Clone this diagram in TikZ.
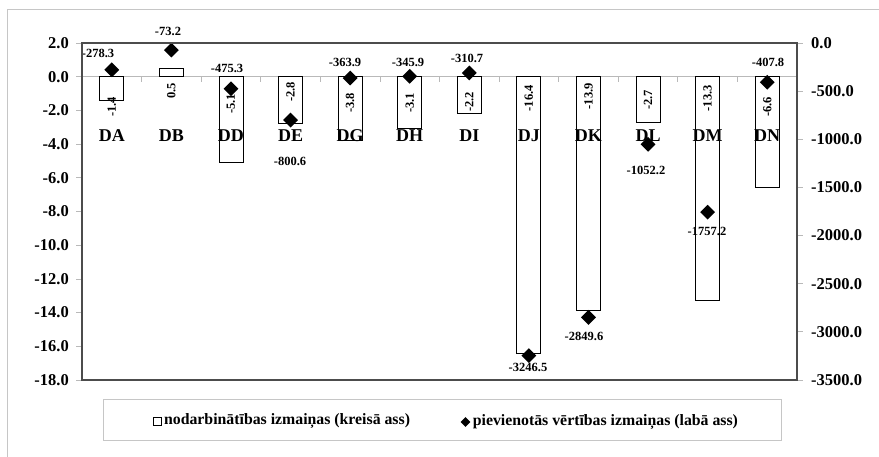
\documentclass[tikz,border=0pt]{standalone}
\usepackage{fontspec}
\setmainfont{Liberation Serif}
\usetikzlibrary{shapes.geometric, positioning}

\begin{document}
\begin{tikzpicture}[
    x=1pt, y=-1pt,
    frame/.style={draw=gray!45, line width=1pt},
    plotbox/.style={draw=black!70, line width=1.4pt},
    bar/.style={draw=black, fill=white, line width=0.9pt},
    marker/.style={diamond, fill=black, inner sep=0pt, minimum size=15pt},
    tickline/.style={draw=gray!55, line width=0.8pt},
    axlabel/.style={font=\fontsize{16.5}{18}\selectfont\bfseries, inner sep=0pt},
    catlabel/.style={font=\fontsize{18}{20}\selectfont\bfseries, inner sep=0pt},
    barval/.style={font=\fontsize{12.5}{14}\selectfont\bfseries, rotate=90, anchor=east, inner sep=0pt},
    dval/.style={font=\fontsize{12.5}{14}\selectfont\bfseries, inner sep=0pt},
    legtext/.style={font=\fontsize{15.8}{17}\selectfont\bfseries, inner sep=0pt}
]
\useasboundingbox (0,0) rectangle (879,456);

% Outer frame
\draw[frame] (7,470) -- (7,9) -- (890,9);

% Plot area and zero line
\draw[tickline] (82,76.7) -- (797,76.7);
\foreach \k in {1,...,11}
  \draw[tickline] ({82+59.583*\k},76.7) -- ++(0,5);

% Left axis
\foreach \v/\t in {2/2.0, 0/0.0, -2/-2.0, -4/-4.0, -6/-6.0, -8/-8.0, -10/-10.0,
                   -12/-12.0, -14/-14.0, -16/-16.0, -18/-18.0} {
  \draw[tickline] (76,{76.7-16.85*\v}) -- (82,{76.7-16.85*\v});
  \node[axlabel, anchor=east] (left\v) at (69,{76.7-16.85*\v}) {\t};
}

% Right axis
\foreach \v/\t in {0/0.0, 500/-500.0, 1000/-1000.0, 1500/-1500.0, 2000/-2000.0,
                   2500/-2500.0, 3000/-3000.0, 3500/-3500.0} {
  \draw[tickline] (797,{43+0.09628*\v}) -- (803,{43+0.09628*\v});
  \node[axlabel, anchor=west] (right\v) at (811,{43+0.09628*\v}) {\t};
}

% Columns, markers and labels
\foreach \c/\b/\d/\lt/\dx/\dy [count=\n] in {
    DA/-1.4/-278.3/97/98/53, DB/0.5/-73.2/83/168/31, DD/-5.1/-475.3/94/227/68,
    DE/-2.8/-800.6/82/290/161, DG/-3.8/-363.9/93/345/62, DH/-3.1/-345.9/93/408/62,
    DI/-2.2/-310.7/92/467/58, DJ/-16.4/-3246.5/85/528/367, DK/-13.9/-2849.6/83/584/336,
    DL/-2.7/-1052.2/90/646/170, DM/-13.3/-1757.2/85/707/231, DN/-6.6/-407.8/97/768/62} {
  \pgfmathsetmacro{\cx}{82+59.583*(\n-0.5)}
  \pgfmathsetmacro{\yb}{76.7-16.85*\b}
  \pgfmathsetmacro{\yd}{43-0.09628*\d}
  \draw[bar] (\cx-12,76.7) rectangle (\cx+12,\yb);
  \node[barval] (bv\n) at (\cx,\lt) {\b};
  \node[catlabel] (cat\n) at (\cx,136) {\c};
  \node[marker] (dia\n) at (\cx,\yd) {};
  \node[dval] (dv\n) at (\dx,\dy) {\d};
}

\draw[plotbox] (82,43) rectangle (797,380);

% Legend
\draw[frame, fill=white] (103,399) rectangle (781,440);
\node[draw, line width=0.8pt, inner sep=0pt, minimum size=8pt] (legsq) at (157.5,421) {};
\node[legtext, right=2pt of legsq] (legbar) {nodarbinātības izmaiņas (kreisā ass)};
\node[marker, minimum size=10pt] (legdia) at (465.5,422) {};
\node[legtext, right=2pt of legdia] (legmark) {pievienotās vērtības izmaiņas (labā ass)};

\end{tikzpicture}
\end{document}
